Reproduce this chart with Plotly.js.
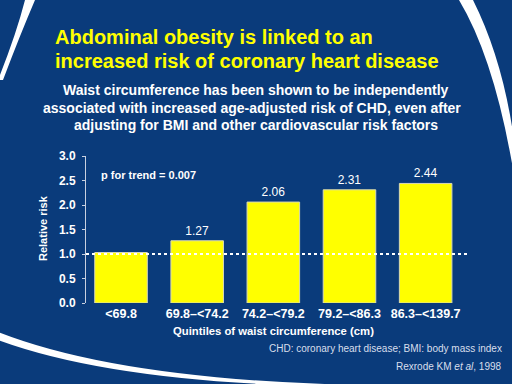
<!DOCTYPE html>
<html>
<head>
<meta charset="utf-8">
<script src="https://cdn.plot.ly/plotly-3.0.1.min.js"></script>
<style>
html,body{margin:0;padding:0;background:#0a3b7b;}
#wrap{position:relative;width:512px;height:384px;overflow:hidden;}
#bg{position:absolute;left:0;top:0;}
#chart{position:absolute;left:0;top:0;width:512px;height:384px;}
</style>
</head>
<body>
<div id="wrap">
<svg id="bg" width="512" height="384" viewBox="0 0 512 384">
  <rect x="0" y="0" width="512" height="384" fill="#0a3b7b"/>
  <path d="M25,0 L35,0 Q20,35 3,80 L-2,80 Q16,35 25,0 Z" fill="#ffffff"/>
  <path d="M459,0 L473,0 Q503,60 514,140 L514,175 Q495,60 459,0 Z" fill="#ffffff"/>
  <path d="M-2,332 Q120,380 360,385 L360,387 Q120,385 -2,340 Z" fill="#ffffff"/>
</svg>
<div id="chart"></div>
</div>
<script>
// ---- data ----
const categories = ['<69.8', '69.8–<74.2', '74.2–<79.2', '79.2–<86.3', '86.3–<139.7'];
const relativeRisk = [1.03, 1.27, 2.06, 2.31, 2.44];
const barLabels = ['', '1.27', '2.06', '2.31', '2.44'];
const yTickVals = [0, 0.5, 1.0, 1.5, 2.0, 2.5, 3.0];
const referenceRisk = 1.0;

// ---- layout geometry (pixels) ----
const W = 512, H = 384;
const L = 86, R = 466, T = 156, B = 303;
const px = v => (v - L) / (R - L);
const py = v => (B - v) / (B - T);

const font = 'Liberation Sans, Arial, sans-serif';

const trace = {
  type: 'bar',
  x: categories,
  y: relativeRisk,
  text: barLabels,
  textposition: 'outside',
  textfont: {family: font, size: 12, color: '#ffffff'},
  cliponaxis: false,
  marker: {color: '#ffff00', line: {color: '#d8d8b8', width: 1}},
  hoverinfo: 'skip'
};

const ann = (text, x, y, opts) => Object.assign({
  text: text, xref: 'paper', yref: 'paper', x: px(x), y: py(y),
  showarrow: false, xanchor: 'center', yanchor: 'middle',
  font: {family: font, size: 12, color: '#ffffff'}
}, opts || {});

const layout = {
  width: W, height: H,
  margin: {l: L, r: W - R, t: T, b: H - B, pad: 0},
  paper_bgcolor: 'rgba(0,0,0,0)',
  plot_bgcolor: 'rgba(0,0,0,0)',
  showlegend: false,
  bargap: 0.31,
  xaxis: {
    type: 'category',
    range: [-0.46, 4.53],
    showline: false, showgrid: false, zeroline: false, ticks: '',
    tickfont: {family: font, size: 12.5, color: '#ffffff', weight: 'bold'},
    ticklabelstandoff: 1
  },
  yaxis: {
    range: [0, 3.0],
    tickvals: yTickVals,
    tickformat: '.1f',
    showline: true, linecolor: '#c8d0e0', linewidth: 1,
    ticks: 'outside', ticklen: 3, tickcolor: '#c8d0e0',
    showgrid: false, zeroline: false,
    tickfont: {family: font, size: 12, color: '#ffffff', weight: 'bold'},
    ticklabelstandoff: 4
  },
  shapes: [
    {type: 'line', xref: 'paper', yref: 'y', x0: 0, x1: px(467), y0: referenceRisk, y1: referenceRisk,
     line: {color: '#ffffff', width: 2, dash: 'dot'}}
  ],
  annotations: [
    ann('Abdominal obesity is linked to an', 53, 37, {xanchor: 'left', font: {family: font, size: 20, color: '#ffff00', weight: 'bold'}}),
    ann('increased risk of coronary heart disease', 53, 61, {xanchor: 'left', font: {family: font, size: 20, color: '#ffff00', weight: 'bold'}}),
    ann('Waist circumference has been shown to be independently', 256, 90, {font: {family: font, size: 14, color: '#ffffff', weight: 'bold'}}),
    ann('associated with increased age-adjusted risk of CHD, even after', 252, 107.5, {font: {family: font, size: 14, color: '#ffffff', weight: 'bold'}}),
    ann('adjusting for BMI and other cardiovascular risk factors', 256, 125, {font: {family: font, size: 14, color: '#ffffff', weight: 'bold'}}),
    ann('p for trend = 0.007', 99, 175, {xanchor: 'left', font: {family: font, size: 11, color: '#ffffff', weight: 'bold'}}),
    ann('Quintiles of waist circumference (cm)', 273, 331, {font: {family: font, size: 11.3, color: '#ffffff', weight: 'bold'}}),
    ann('Relative risk', 43, 228, {textangle: -90, font: {family: font, size: 11, color: '#ffffff', weight: 'bold'}}),
    ann('CHD: coronary heart disease; BMI: body mass index', 504, 348, {xanchor: 'right', font: {family: font, size: 10, color: '#d8dfec'}}),
    ann('Rexrode KM <i>et al</i>, 1998', 504, 366, {xanchor: 'right', font: {family: font, size: 10, color: '#d8dfec'}})
  ]
};

Plotly.newPlot('chart', [trace], layout, {staticPlot: true, displayModeBar: false});
</script>
</body>
</html>
